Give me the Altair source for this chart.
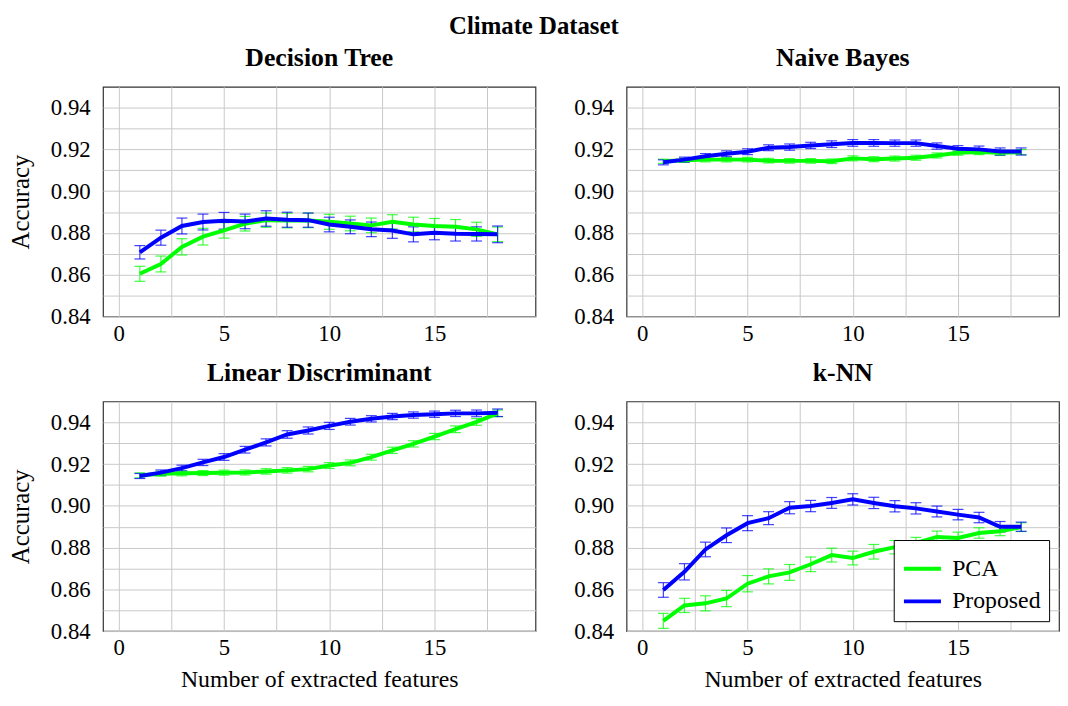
import altair as alt
import pandas as pd

FONT = "Liberation Serif"

features = list(range(1, 19))

dt_pca = [0.8604, 0.8651, 0.8733, 0.8782, 0.8812, 0.8844, 0.8861, 0.8859, 0.8860,
          0.8853, 0.8845, 0.8836, 0.8853, 0.8840, 0.8833, 0.8829, 0.8817, 0.8793]
dt_pca_err = [0.0036, 0.0038, 0.0039, 0.0040, 0.0037, 0.0035, 0.0034, 0.0035, 0.0035,
              0.0036, 0.0035, 0.0035, 0.0034, 0.0035, 0.0036, 0.0035, 0.0034, 0.0035]
dt_prop = [0.8707, 0.8777, 0.8833, 0.8852, 0.8858, 0.8855, 0.8869, 0.8863, 0.8861,
           0.8840, 0.8829, 0.8817, 0.8811, 0.8793, 0.8801, 0.8796, 0.8795, 0.8793]
dt_prop_err = [0.0032, 0.0036, 0.0038, 0.0038, 0.0040, 0.0035, 0.0037, 0.0036, 0.0034,
               0.0035, 0.0033, 0.0035, 0.0037, 0.0036, 0.0034, 0.0035, 0.0034, 0.0040]

nb_pca = [0.9143, 0.9148, 0.9151, 0.9151, 0.9151, 0.9146, 0.9145, 0.9145, 0.9143,
          0.9157, 0.9153, 0.9156, 0.9160, 0.9171, 0.9184, 0.9187, 0.9184, 0.9187]
nb_pca_err = [0.0010, 0.0010, 0.0011, 0.0011, 0.0011, 0.0011, 0.0011, 0.0011, 0.0011,
              0.0012, 0.0012, 0.0012, 0.0012, 0.0012, 0.0012, 0.0012, 0.0013, 0.0012]
nb_prop = [0.9138, 0.9151, 0.9167, 0.9179, 0.9189, 0.9208, 0.9211, 0.9219, 0.9225,
           0.9231, 0.9231, 0.9230, 0.9230, 0.9216, 0.9203, 0.9200, 0.9190, 0.9190]
nb_prop_err = [0.0012, 0.0012, 0.0013, 0.0014, 0.0014, 0.0014, 0.0015, 0.0015, 0.0016,
               0.0016, 0.0016, 0.0015, 0.0015, 0.0015, 0.0015, 0.0016, 0.0017, 0.0017]

lda_pca = [0.9146, 0.9154, 0.9156, 0.9157, 0.9159, 0.9160, 0.9165, 0.9170, 0.9176,
           0.9193, 0.9206, 0.9233, 0.9266, 0.9297, 0.9332, 0.9367, 0.9402, 0.9443]
lda_pca_err = [0.0012, 0.0012, 0.0012, 0.0012, 0.0012, 0.0012, 0.0013, 0.0013, 0.0013,
               0.0014, 0.0014, 0.0014, 0.0015, 0.0015, 0.0015, 0.0016, 0.0016, 0.0016]
lda_prop = [0.9143, 0.9159, 0.9181, 0.9208, 0.9234, 0.9269, 0.9304, 0.9342, 0.9361,
            0.9383, 0.9403, 0.9417, 0.9428, 0.9435, 0.9439, 0.9443, 0.9443, 0.9446]
lda_prop_err = [0.0012, 0.0013, 0.0014, 0.0015, 0.0016, 0.0016, 0.0017, 0.0018, 0.0017,
                0.0017, 0.0016, 0.0015, 0.0015, 0.0015, 0.0015, 0.0015, 0.0016, 0.0018]

knn_pca = [0.8449, 0.8523, 0.8533, 0.8556, 0.8627, 0.8662, 0.8681, 0.8720, 0.8764,
           0.8750, 0.8780, 0.8802, 0.8823, 0.8851, 0.8846, 0.8870, 0.8878, 0.8898]
knn_pca_err = [0.0036, 0.0034, 0.0036, 0.0039, 0.0039, 0.0036, 0.0038, 0.0035, 0.0033,
               0.0033, 0.0035, 0.0032, 0.0026, 0.0028, 0.0028, 0.0025, 0.0021, 0.0021]
knn_prop = [0.8597, 0.8684, 0.8791, 0.8859, 0.8917, 0.8941, 0.8991, 0.8999, 0.9014,
            0.9031, 0.9014, 0.8998, 0.8988, 0.8973, 0.8958, 0.8944, 0.8900, 0.8900]
knn_prop_err = [0.0035, 0.0039, 0.0035, 0.0035, 0.0036, 0.0031, 0.0029, 0.0027, 0.0026,
                0.0027, 0.0027, 0.0027, 0.0027, 0.0026, 0.0025, 0.0025, 0.0025, 0.0022]

methods = ["PCA", "Proposed"]
colors = ["#00ff00", "#0000ff"]

x_grid = [0, 2.5, 5, 7.5, 10, 12.5, 15, 17.5]
y_grid = [0.84, 0.85, 0.86, 0.87, 0.88, 0.89, 0.90, 0.91, 0.92, 0.93, 0.94]


def make_df(pca, pca_err, prop, prop_err):
    rows = []
    for m, means, errs in (("PCA", pca, pca_err), ("Proposed", prop, prop_err)):
        for x, v, e in zip(features, means, errs):
            rows.append({"x": x, "acc": v, "lo": v - e, "hi": v + e, "method": m})
    return pd.DataFrame(rows)


W, H = 437, 232


def panel(title, df, y_title, x_title, legend):
    xs = alt.Scale(domain=[-0.75, 19.8], nice=False, zero=False)
    ys = alt.Scale(domain=[0.84, 0.95], nice=False, zero=False)
    xaxis = alt.Axis(values=x_grid, labelExpr="datum.value % 5 == 0 ? datum.label : ''",
                     title=x_title, labelPadding=6, titlePadding=8,
                     labelFont=FONT, titleFont=FONT, labelFontSize=23, titleFontSize=24,
                     labelColor="black", titleColor="black", titleFontWeight="normal")
    yaxis = alt.Axis(values=y_grid,
                     labelExpr="round(datum.value*100) % 2 == 0 ? format(datum.value, '.2f') : ''",
                     title=y_title, labelPadding=13, titlePadding=17,
                     labelFont=FONT, titleFont=FONT, labelFontSize=23, titleFontSize=25,
                     labelColor="black", titleColor="black", titleFontWeight="normal")
    cs = alt.Scale(domain=methods, range=colors)
    base = alt.Chart(df)
    x = alt.X("x:Q", scale=xs, axis=xaxis)
    layers = []
    for m, c in zip(methods, colors):
        sub = base.transform_filter(alt.datum.method == m)
        rule = sub.mark_rule(strokeWidth=1.2, opacity=0.75, color=c).encode(
            x=x, y=alt.Y("lo:Q", scale=ys, axis=yaxis), y2="hi:Q")
        cap_lo = sub.mark_tick(orient="horizontal", size=11, thickness=1.2, opacity=0.75,
                               color=c).encode(x=x, y=alt.Y("lo:Q", scale=ys, axis=yaxis))
        cap_hi = sub.mark_tick(orient="horizontal", size=11, thickness=1.2, opacity=0.75,
                               color=c).encode(x=x, y=alt.Y("hi:Q", scale=ys, axis=yaxis))
        layers += [rule, cap_lo, cap_hi]
    if legend:
        leg = alt.Legend(orient="bottom-right", offset=10, title=None,
                         strokeColor="black", fillColor="white", padding=8,
                         cornerRadius=0, labelFont=FONT, labelFontSize=24,
                         symbolType="stroke", symbolStrokeWidth=4, symbolSize=1400,
                         rowPadding=-6, labelOffset=9, labelColor="black")
        col = alt.Color("method:N", scale=cs, legend=leg)
    else:
        col = alt.Color("method:N", scale=cs, legend=None)
    line = base.mark_line(strokeWidth=4).encode(
        x=x, y=alt.Y("acc:Q", scale=ys, axis=yaxis), color=col)
    layers.append(line)
    return alt.layer(*layers).properties(
        width=W, height=H,
        title=alt.TitleParams(title, font=FONT, fontSize=26, fontWeight="bold", offset=16))


p1 = panel("Decision Tree", make_df(dt_pca, dt_pca_err, dt_prop, dt_prop_err),
           "Accuracy", None, False)
p2 = panel("Naive Bayes", make_df(nb_pca, nb_pca_err, nb_prop, nb_prop_err),
           None, None, False)
p3 = panel("Linear Discriminant", make_df(lda_pca, lda_pca_err, lda_prop, lda_prop_err),
           "Accuracy", "Number of extracted features", False)
p4 = panel("k-NN", make_df(knn_pca, knn_pca_err, knn_prop, knn_prop_err),
           None, "Number of extracted features", True)

row1 = alt.hconcat(p1, p2, spacing=37).resolve_scale(color="independent").resolve_legend(color="independent")
row2 = alt.hconcat(p3, p4, spacing=37).resolve_scale(color="independent").resolve_legend(color="independent")

chart = alt.vconcat(row1, row2, spacing=13).resolve_scale(color="independent").resolve_legend(
    color="independent"
).properties(
    title=alt.TitleParams("Climate Dataset", font=FONT, fontSize=25, fontWeight="bold",
                          anchor="middle", offset=6),
    padding={"left": 0, "top": 2, "right": 0, "bottom": 0},
    background="white",
).configure_view(
    stroke="#333333", strokeWidth=1.2
).configure_axis(
    labelFont=FONT, titleFont=FONT, labelFontSize=23, titleFontSize=24,
    labelColor="black", titleColor="black", titleFontWeight="normal",
    grid=True, gridColor="#c8c8c8", gridWidth=1, ticks=False, domain=False,
    labelOverlap=False, labelFlush=False
)

chart.save("out.html", embed_options={"renderer": "svg", "actions": False})
